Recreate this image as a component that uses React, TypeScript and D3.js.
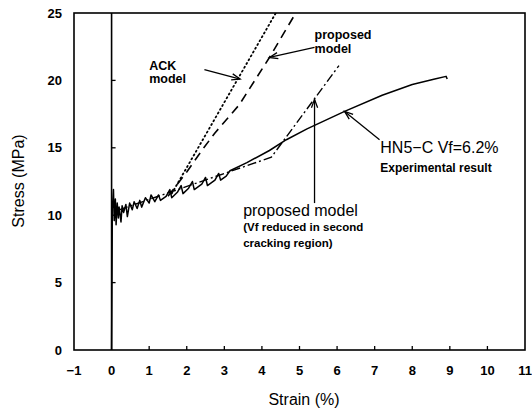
import React from "react";
import * as d3 from "d3";

// Tick values
const xTicks = [-1, 0, 1, 2, 3, 4, 5, 6, 7, 8, 9, 10, 11];
const yTicks = [0, 5, 10, 15, 20, 25];

// HN5-C experimental stress-strain record [strain %, stress MPa]
const experimental: [number, number][] = [
  [0, 0], [0.02, 10.5], [0.05, 11.9], [0.07, 9.6], [0.1, 11.2], [0.12, 9.3],
  [0.15, 10.9], [0.18, 9.8], [0.2, 10.6], [0.25, 9.5], [0.28, 10.7], [0.32, 10.2],
  [0.38, 10.8], [0.42, 9.9], [0.48, 10.9], [0.55, 10.4], [0.6, 11.0], [0.68, 10.5],
  [0.75, 11.1], [0.8, 10.6], [0.9, 11.3], [1.0, 10.9], [1.05, 11.5], [1.15, 11.0],
  [1.25, 11.5], [1.3, 11.1], [1.45, 11.4], [1.55, 11.9], [1.6, 11.3], [1.75, 11.7],
  [1.85, 12.2], [1.9, 11.6], [2.05, 12.0], [2.15, 12.5], [2.2, 11.9], [2.4, 12.3],
  [2.5, 12.8], [2.55, 12.2], [2.75, 12.6], [2.85, 13.1], [2.9, 12.6], [3.05, 12.9],
  [3.15, 13.3], [3.6, 13.9], [4.2, 14.8], [4.65, 15.6], [5.2, 16.4], [6.2, 17.7],
  [7.2, 18.9], [8.0, 19.7], [8.6, 20.1], [8.9, 20.3], [8.93, 20.1],
];

// ACK model prediction
const ackModel: [number, number][] = [
  [1.6, 11.6], [4.37, 25],
];

// Proposed model
const proposedModel: [number, number][] = [
  [1.5, 11.4], [2.0, 13.2], [2.4, 14.8], [2.75, 16.1], [3.4, 18.2], [4.2, 21.7], [4.9, 25],
];

// Proposed model with Vf reduced in the second cracking region
const proposedReduced: [number, number][] = [
  [0.2, 10.4], [4.25, 14.3], [6.05, 21.1],
];

const W = 532;
const H = 415;
const left = 74, right = 525, top = 13, bottom = 350;

const x = d3.scaleLinear().domain([-1, 11]).range([left, right]);
const y = d3.scaleLinear().domain([0, 25]).range([bottom, top]);

const line = d3
  .line<[number, number]>()
  .x((d) => x(d[0]))
  .y((d) => y(d[1]));

const font = "'Liberation Sans', Arial, sans-serif";

function Arrow({ from, to }: { from: [number, number]; to: [number, number] }) {
  const x1 = x(from[0]), y1 = y(from[1]);
  const x2 = x(to[0]), y2 = y(to[1]);
  const ang = Math.atan2(y2 - y1, x2 - x1);
  const len = 9, spread = 0.35;
  const a1 = [x2 - len * Math.cos(ang - spread), y2 - len * Math.sin(ang - spread)];
  const a2 = [x2 - len * Math.cos(ang + spread), y2 - len * Math.sin(ang + spread)];
  return (
    <g stroke="#000" strokeWidth={1.3} fill="none">
      <line x1={x1} y1={y1} x2={x2} y2={y2} />
      <polyline points={`${a1[0]},${a1[1]} ${x2},${y2} ${a2[0]},${a2[1]}`} />
    </g>
  );
}

export default function App() {
  return (
    <svg width={W} height={H} style={{ position: "absolute", left: 0, top: 0, background: "#fff" }}>
      <defs>
        <clipPath id="plot">
          <rect x={left} y={top} width={right - left} height={bottom - top} />
        </clipPath>
      </defs>

      {/* frame */}
      <rect x={left} y={top} width={right - left} height={bottom - top} fill="none" stroke="#000" strokeWidth={1.6} />
      {/* zero strain axis */}
      <line x1={x(0)} x2={x(0)} y1={top} y2={bottom} stroke="#000" strokeWidth={1.6} />

      {/* y ticks on zero strain axis */}
      {yTicks.filter((t) => t > 0 && t < 25).map((t) => (
        <line key={"yt" + t} x1={x(0)} x2={x(0) + 4} y1={y(t)} y2={y(t)} stroke="#000" strokeWidth={1.3} />
      ))}
      {/* x ticks */}
      {xTicks.filter((t) => t > 0 && t < 11).map((t) => (
        <line key={"xt" + t} x1={x(t)} x2={x(t)} y1={bottom} y2={bottom - 4} stroke="#000" strokeWidth={1.3} />
      ))}

      {/* tick labels */}
      {yTicks.map((t) => (
        <text key={"yl" + t} x={62} y={y(t) + 4.5} textAnchor="end" fontFamily={font} fontWeight="bold" fontSize={13}>
          {t}
        </text>
      ))}
      {xTicks.map((t) => (
        <text key={"xl" + t} x={x(t)} y={375} textAnchor="middle" fontFamily={font} fontWeight="bold" fontSize={13}>
          {t < 0 ? "\u2212" + Math.abs(t) : t}
        </text>
      ))}

      {/* axis titles */}
      <text x={304} y={405} textAnchor="middle" fontFamily={font} fontSize={16}>
        Strain (%)
      </text>
      <text transform="translate(24,181) rotate(-90)" textAnchor="middle" fontFamily={font} fontSize={16}>
        Stress (MPa)
      </text>

      {/* curves */}
      <g clipPath="url(#plot)" fill="none" stroke="#000">
        <path d={line(experimental) ?? ""} strokeWidth={1.5} strokeLinejoin="round" />
        <path d={line(ackModel) ?? ""} strokeWidth={1.8} strokeDasharray="1.2 3.2" strokeLinecap="round" />
        <path d={line(proposedModel) ?? ""} strokeWidth={1.6} strokeDasharray="9 6" />
        <path d={line(proposedReduced) ?? ""} strokeWidth={1.4} strokeDasharray="9 3 2 3" />
      </g>

      {/* annotations */}
      <g fontFamily={font} fontWeight="bold">
        <text x={x(1.0)} y={y(20.8)} fontSize={12.5}>ACK</text>
        <text x={x(1.0)} y={y(19.8)} fontSize={12.5}>model</text>
        <text x={x(5.4)} y={y(23.1)} fontSize={12.5}>proposed</text>
        <text x={x(5.4)} y={y(22.05)} fontSize={12.5}>model</text>
        <text x={x(7.15)} y={y(14.6)} fontSize={16} fontWeight="normal">HN5{"\u2212"}C Vf=6.2%</text>
        <text x={x(7.15)} y={y(13.2)} fontSize={12}>Experimental result</text>
        <text x={x(3.5)} y={y(9.95)} fontSize={16} fontWeight="normal">proposed model</text>
        <text x={x(3.5)} y={y(8.8)} fontSize={11.5}>(Vf reduced in second</text>
        <text x={x(3.5)} y={y(7.65)} fontSize={11.5}>cracking region)</text>
      </g>
      <Arrow from={[2.47, 20.8]} to={[3.42, 20.1]} />
      <Arrow from={[5.4, 22.45]} to={[4.2, 21.7]} />
      <Arrow from={[7.13, 15.6]} to={[6.2, 17.7]} />
      <Arrow from={[5.4, 10.9]} to={[5.4, 18.6]} />
    </svg>
  );
}
